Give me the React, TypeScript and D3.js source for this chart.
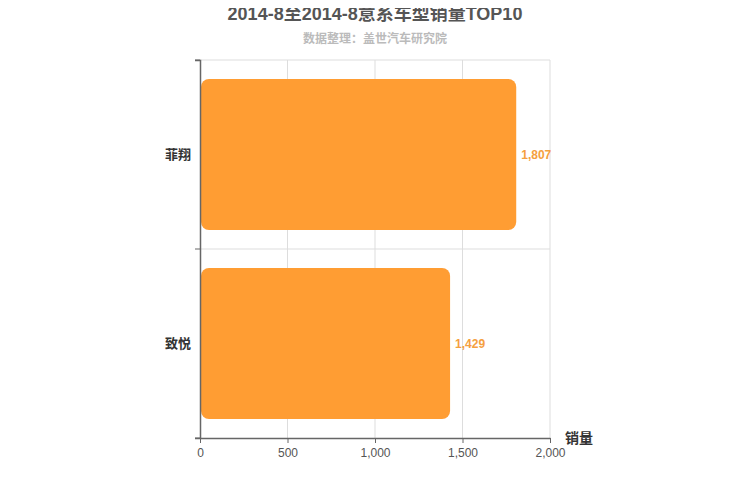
import { useEffect, useRef } from 'react'
import * as d3 from 'd3'

const categories = ['菲翔', '致悦']
const sales = [1807, 1429]
const xTicks = [0, 500, 1000, 1500, 2000]

const title = '2014-8至2014-8意系车型销量TOP10'
const subtitle = '数据整理：盖世汽车研究院'

export default function App() {
  const ref = useRef<SVGSVGElement | null>(null)

  useEffect(() => {
    if (!ref.current) {return}
    const width = 750
    const height = 500
    const svg = d3.select(ref.current)
    svg.selectAll('*').remove()

    const margin = { top: 60, right: 200, bottom: 62, left: 200 }
    const innerWidth = width - margin.left - margin.right
    const innerHeight = height - margin.top - margin.bottom
    const font = 'Arial, "Liberation Sans", "Noto Sans CJK SC", sans-serif'

    const x = d3.scaleLinear().domain([0, 2000]).range([0, innerWidth])
    const y = d3.scaleBand().domain(categories).range([0, innerHeight]).paddingInner(0.2).paddingOuter(0.1)
    const band = d3.scaleBand().domain(categories).range([0, innerHeight])

    svg.append('text')
      .attr('x', width / 2).attr('y', 20)
      .attr('text-anchor', 'middle')
      .attr('font-family', font).attr('font-size', 18).attr('font-weight', 'bold')
      .attr('fill', '#555')
      .text(title)

    svg.append('text')
      .attr('x', width / 2).attr('y', 43)
      .attr('text-anchor', 'middle')
      .attr('font-family', font).attr('font-size', 12).attr('font-weight', 'bold')
      .attr('fill', '#bbb')
      .text(subtitle)

    const root = svg.append('g').attr('transform', `translate(${margin.left},${margin.top})`)

    // grid
    root.append('g').selectAll('line.v')
      .data(xTicks.slice(1))
      .join('line')
      .attr('x1', (d) => x(d)).attr('x2', (d) => x(d))
      .attr('y1', 0).attr('y2', innerHeight)
      .attr('stroke', '#ddd')
    root.append('g').selectAll('line.h')
      .data(categories)
      .join('line')
      .attr('x1', 0).attr('x2', innerWidth)
      .attr('y1', (d) => band(d) ?? 0).attr('y2', (d) => band(d) ?? 0)
      .attr('stroke', '#ddd')

    // bars
    root.append('g').selectAll('rect')
      .data(sales)
      .join('rect')
      .attr('x', x(0) + 1)
      .attr('y', (_, i) => y(categories[i]) ?? 0)
      .attr('width', (d) => x(d) - x(0) - 1)
      .attr('height', y.bandwidth())
      .attr('rx', 8)
      .attr('fill', '#ff9d33')

    root.append('g').selectAll('text')
      .data(sales)
      .join('text')
      .attr('x', (d) => x(d) + 5)
      .attr('y', (_, i) => (y(categories[i]) ?? 0) + y.bandwidth() / 2)
      .attr('dy', '0.35em')
      .attr('font-family', font).attr('font-size', 12).attr('font-weight', 'bold')
      .attr('fill', '#f5a040')
      .text((d) => d3.format(',')(d))

    // y axis
    const yAxis = root.append('g')
      .call(d3.axisLeft(band).tickSize(5).tickPadding(8).tickValues([]))
    yAxis.select('.domain').attr('stroke', '#666').attr('stroke-width', 1.5)
    yAxis.append('g').selectAll('line')
      .data([0, ...categories.map((c) => (band(c) ?? 0) + band.bandwidth())])
      .join('line')
      .attr('x1', -5).attr('x2', 0)
      .attr('y1', (d) => d).attr('y2', (d) => d)
      .attr('stroke', '#666')
    yAxis.append('g').selectAll('text')
      .data(categories)
      .join('text')
      .attr('x', -9)
      .attr('y', (d) => (band(d) ?? 0) + band.bandwidth() / 2)
      .attr('dy', '0.35em')
      .attr('text-anchor', 'end')
      .attr('font-family', font).attr('font-size', 13).attr('font-weight', 'bold')
      .attr('fill', '#333')
      .text((d) => d)

    // x axis
    const xAxis = root.append('g')
      .attr('transform', `translate(0,${innerHeight})`)
      .call(d3.axisBottom(x).tickValues(xTicks).tickSize(5).tickSizeOuter(0).tickFormat(d3.format(',')))
    xAxis.select('.domain').attr('stroke', '#666').attr('stroke-width', 1.5)
    xAxis.selectAll('.tick line').attr('stroke', '#666')
    xAxis.selectAll('text')
      .attr('fill', '#555')
      .attr('font-family', font)
      .style('font-size', '12px')
      .attr('dy', '0.9em')

    root.append('text')
      .attr('x', innerWidth + 15).attr('y', innerHeight + 5)
      .attr('font-family', font).attr('font-size', 14).attr('font-weight', 'bold')
      .attr('fill', '#333')
      .text('销量')
  }, [])

  return (
    <svg ref={ref} lang="zh-CN" width={750} height={500} style={{ display: 'block', margin: -8 }} />
  )
}
